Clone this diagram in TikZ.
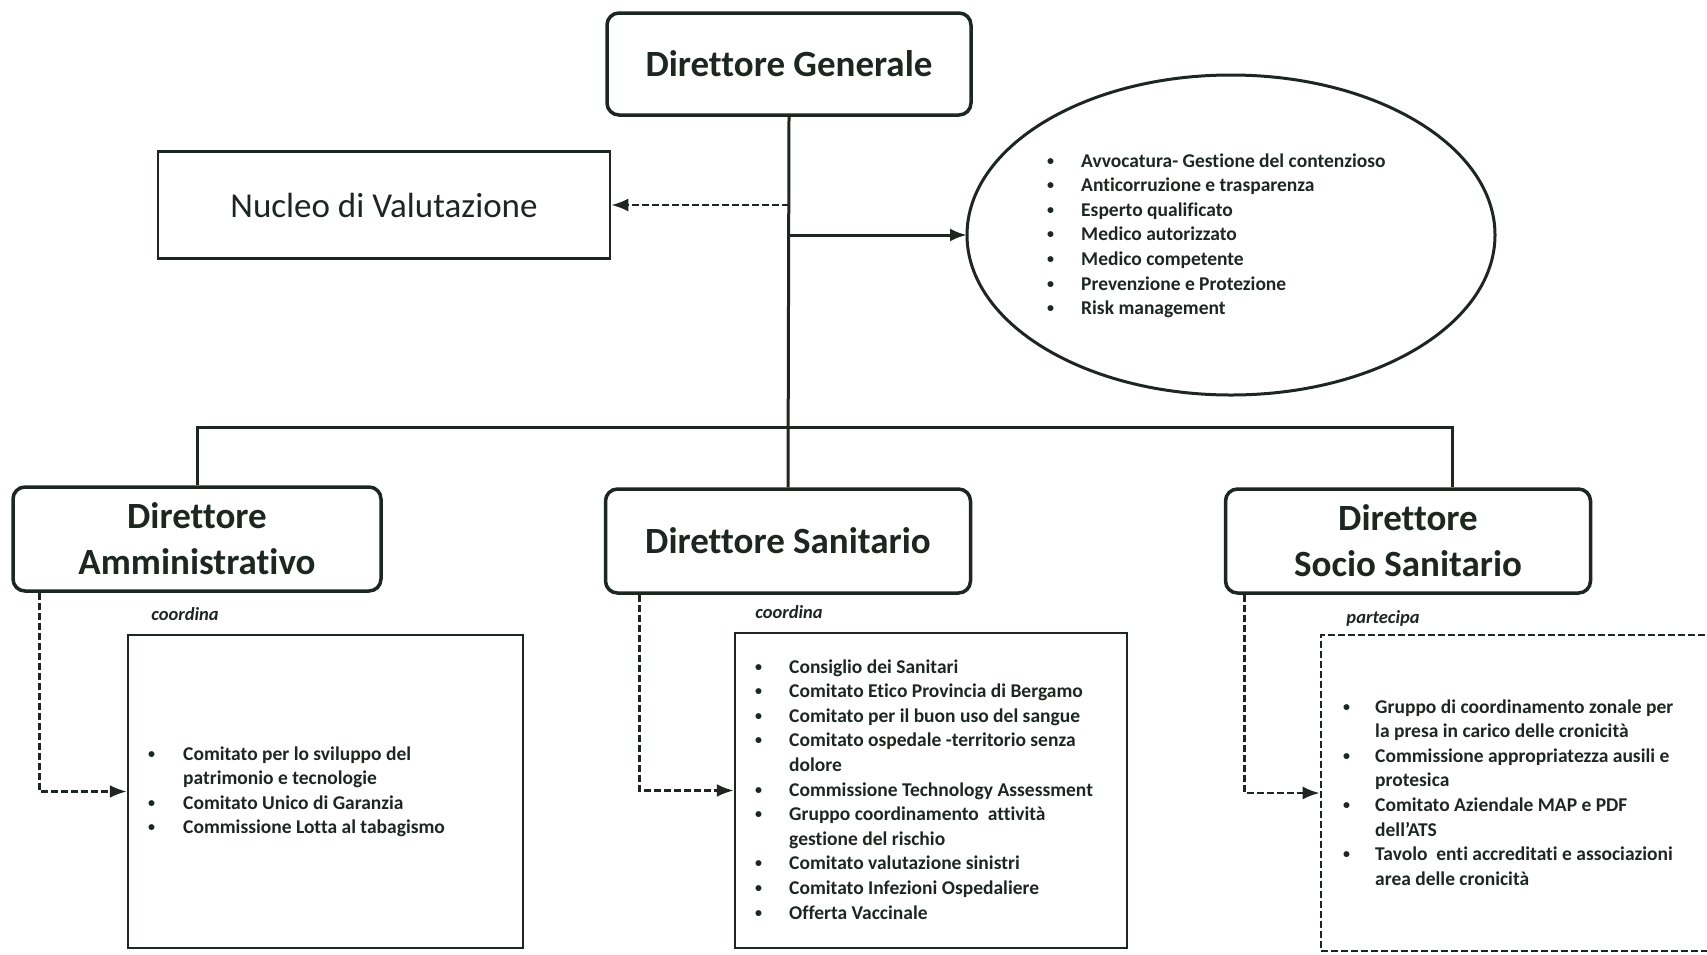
\documentclass[tikz,border=0pt]{standalone}
\usepackage{fontspec}
\setmainfont{Carlito}[Ligatures=NoCommon]
\usetikzlibrary{arrows.meta}
\definecolor{ink}{HTML}{1E2622}

\newcommand{\blt}{\raisebox{2pt}{\fontsize{14}{14}\selectfont\textbullet}}

\tikzset{
  headbox/.style={draw=ink, line width=3.5pt, rounded corners=12pt, text=ink,
    font=\fontsize{37}{46}\selectfont\bfseries, align=center, inner sep=0pt},
  listbox/.style={draw=ink, line width=2.5pt, inner sep=0pt},
  listtext/.style={text=ink, font=\fontsize{19.5}{24.6}\selectfont\bfseries,
    inner sep=0pt, anchor=base west},
  tag/.style={text=ink, font=\fontsize{18.5}{20}\selectfont\bfseries\itshape, inner sep=0pt},
  link/.style={draw=ink, line width=3pt},
  tip/.style={-{Latex[length=17pt, width=13pt]}},
  dlink/.style={draw=ink, line width=2.6pt, dash pattern=on 7pt off 3pt, tip},
}

\begin{document}
\begin{tikzpicture}[x=1pt, y=-1pt]
  \useasboundingbox (0,0) rectangle (1707,954);

  % Top level
  \node[headbox, minimum width=364pt, minimum height=102pt] (gen) at (789,64) {Direttore Generale};
  \node[listbox, line width=2.5pt, minimum width=452pt, minimum height=107pt, text=ink,
        font=\fontsize{35}{40}\selectfont] (nuc) at (384,205) {Nucleo di Valutazione};
  \draw[ink, line width=3pt] (1231,235) ellipse (264pt and 160pt);
  \coordinate (ell) at (967,235);

  % Staff list in the ellipse
  \node[listtext] (elist) at (1047,167) {\begin{tabular}[t]{@{}p{34pt}@{}l@{}}
    \blt & Avvocatura- Gestione del contenzioso\\
    \blt & Anticorruzione e trasparenza\\
    \blt & Esperto qualificato\\
    \blt & Medico autorizzato\\
    \blt & Medico competente\\
    \blt & Prevenzione e Protezione\\
    \blt & Risk management
  \end{tabular}};

  % Second level
  \node[headbox, minimum width=368pt, minimum height=104pt] (adm) at (197,539) {Direttore\\Amministrativo};
  \node[headbox, minimum width=365pt, minimum height=104pt] (san) at (788,541) {Direttore Sanitario};
  \node[headbox, minimum width=365pt, minimum height=104pt] (soc) at (1408,541) {Direttore\\Socio Sanitario};

  % Trunk, bus and staff arrows
  \draw[link] (gen.south) -- (san.north);
  \coordinate (bus) at (788,427);
  \draw[link] (adm.north) |- (bus) -| ([xshift=44pt]soc.north);
  \draw[dlink] (gen.south |- nuc.east) -- (nuc.east);
  \draw[link, tip] (gen.south |- ell) -- (ell);

  % Committee boxes
  \node[listbox, minimum width=395pt, minimum height=313pt] (admc) at (325.5,791.5) {};
  \node[listbox, minimum width=392pt, minimum height=315pt] (sanc) at (931,790.5) {};
  \node[listbox, dash pattern=on 7pt off 3pt, line width=2.6pt, minimum width=394pt,
        minimum height=316pt] (socc) at (1518,793) {};

  \node[tag] (admtag) at (185,614) {coordina};
  \node[tag] (santag) at (789,612) {coordina};
  \node[tag] (soctag) at (1383,618) {partecipa};

  \draw[dlink] ([xshift=28pt]adm.south west) |- (admc.west);
  \draw[dlink] ([xshift=36pt]san.south west) |- (sanc.west);
  \draw[dlink] ([xshift=21pt]soc.south west) |- (socc.west);

  % Committee lists
  \node[listtext] (admlist) at (148,760) {\begin{tabular}[t]{@{}p{35pt}@{}l@{}}
    \blt & Comitato per lo sviluppo del\\
         & patrimonio e tecnologie\\
    \blt & Comitato Unico di Garanzia\\
    \blt & Commissione Lotta al tabagismo
  \end{tabular}};
  \node[listtext] (sanlist) at (755,673) {\begin{tabular}[t]{@{}p{34pt}@{}l@{}}
    \blt & Consiglio dei Sanitari\\
    \blt & Comitato Etico Provincia di Bergamo\\
    \blt & Comitato per il buon uso del sangue\\
    \blt & Comitato ospedale -territorio senza\\
         & dolore\\
    \blt & Commissione Technology Assessment\\
    \blt & Gruppo coordinamento\ \ attività\\
         & gestione del rischio\\
    \blt & Comitato valutazione sinistri\\
    \blt & Comitato Infezioni Ospedaliere\\
    \blt & Offerta Vaccinale
  \end{tabular}};
  \node[listtext] (soclist) at (1343,713) {\begin{tabular}[t]{@{}p{32pt}@{}l@{}}
    \blt & Gruppo di coordinamento zonale per\\
         & la presa in carico delle cronicità\\
    \blt & Commissione appropriatezza ausili e\\
         & protesica\\
    \blt & Comitato Aziendale MAP e PDF\\
         & dell’ATS\\
    \blt & Tavolo\ \ enti accreditati e associazioni\\
         & area delle cronicità
  \end{tabular}};
\end{tikzpicture}
\end{document}
